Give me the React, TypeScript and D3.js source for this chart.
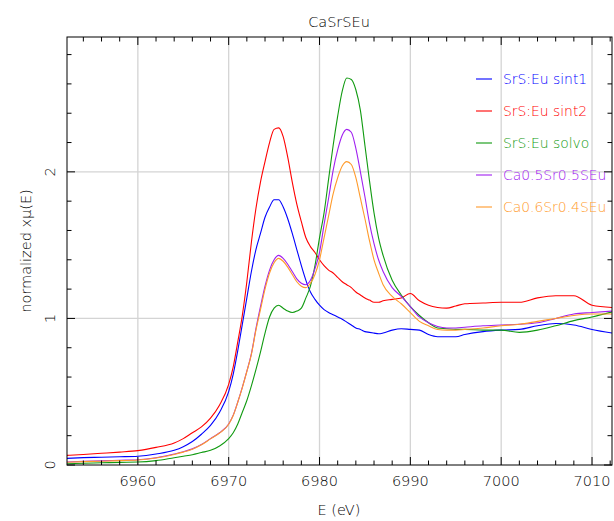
import React from "react";
import * as d3 from "d3";

const energy = [6952, 6954, 6956, 6958, 6960, 6962, 6964, 6965, 6966, 6967, 6968, 6969, 6970, 6970.5, 6971, 6971.5, 6972, 6972.5, 6973, 6973.5, 6974, 6974.5, 6975, 6975.5, 6976, 6976.5, 6977, 6977.5, 6978, 6978.5, 6979, 6979.5, 6980, 6980.5, 6981, 6981.5, 6982, 6982.5, 6983, 6983.5, 6984, 6984.5, 6985, 6985.5, 6986, 6986.5, 6987, 6988, 6989, 6990, 6991, 6992, 6993, 6994, 6995, 6996, 6998, 7000, 7002, 7004, 7006, 7008, 7010, 7012.2];

const sint1 = [0.045, 0.05, 0.053, 0.056, 0.06, 0.075, 0.1, 0.125, 0.16, 0.21, 0.27, 0.36, 0.5, 0.62, 0.78, 0.96, 1.14, 1.32, 1.47, 1.58, 1.69, 1.76, 1.81, 1.81, 1.76, 1.68, 1.58, 1.47, 1.36, 1.26, 1.18, 1.13, 1.09, 1.06, 1.04, 1.025, 1.01, 0.995, 0.975, 0.955, 0.935, 0.925, 0.91, 0.905, 0.9, 0.895, 0.9, 0.92, 0.93, 0.925, 0.92, 0.89, 0.875, 0.875, 0.875, 0.89, 0.91, 0.92, 0.925, 0.95, 0.965, 0.955, 0.925, 0.9];

const sint2 = [0.065, 0.072, 0.08, 0.088, 0.098, 0.12, 0.15, 0.18, 0.22, 0.26, 0.32, 0.41, 0.55, 0.67, 0.84, 1.02, 1.25, 1.52, 1.75, 1.93, 2.07, 2.2, 2.29, 2.3, 2.24, 2.1, 1.93, 1.78, 1.66, 1.55, 1.49, 1.45, 1.4, 1.36, 1.33, 1.31, 1.28, 1.25, 1.23, 1.21, 1.18, 1.16, 1.14, 1.125, 1.11, 1.11, 1.12, 1.13, 1.14, 1.17, 1.12, 1.09, 1.075, 1.07, 1.085, 1.1, 1.105, 1.11, 1.11, 1.14, 1.155, 1.155, 1.09, 1.075];

const solvo = [0.008, 0.012, 0.015, 0.018, 0.02, 0.03, 0.05, 0.06, 0.07, 0.085, 0.1, 0.13, 0.18, 0.22, 0.28, 0.36, 0.44, 0.54, 0.65, 0.77, 0.9, 1.01, 1.07, 1.09, 1.07, 1.05, 1.04, 1.05, 1.07, 1.14, 1.22, 1.36, 1.55, 1.72, 1.95, 2.18, 2.38, 2.55, 2.64, 2.63, 2.56, 2.42, 2.18, 1.94, 1.72, 1.55, 1.43, 1.26, 1.16, 1.08, 1.02, 0.97, 0.935, 0.93, 0.925, 0.925, 0.92, 0.92, 0.905, 0.92, 0.95, 0.985, 1.01, 1.045];

const ca05 = [0.02, 0.025, 0.028, 0.032, 0.036, 0.05, 0.075, 0.09, 0.11, 0.14, 0.18, 0.22, 0.28, 0.34, 0.43, 0.53, 0.64, 0.76, 0.93, 1.08, 1.22, 1.33, 1.4, 1.43, 1.41, 1.37, 1.32, 1.27, 1.24, 1.23, 1.26, 1.34, 1.45, 1.64, 1.82, 2.01, 2.15, 2.25, 2.29, 2.27, 2.16, 2.0, 1.83, 1.65, 1.51, 1.4, 1.32, 1.21, 1.15, 1.08, 1.01, 0.97, 0.945, 0.935, 0.935, 0.94, 0.95, 0.955, 0.96, 0.97, 1.0, 1.03, 1.04, 1.05];

const ca06 = [0.018, 0.023, 0.026, 0.03, 0.034, 0.048, 0.072, 0.088, 0.108, 0.138, 0.178, 0.218, 0.278, 0.338, 0.428, 0.528, 0.638, 0.755, 0.92, 1.06, 1.2, 1.31, 1.38, 1.41, 1.39, 1.35, 1.3, 1.25, 1.22, 1.21, 1.24, 1.3, 1.4, 1.55, 1.7, 1.85, 1.96, 2.04, 2.07, 2.05, 1.96, 1.82, 1.68, 1.53, 1.4, 1.31, 1.23, 1.15, 1.1, 1.04, 0.98, 0.95, 0.925, 0.92, 0.92, 0.925, 0.935, 0.95, 0.96, 0.98, 1.0, 1.02, 1.03, 1.03];

const seriesNames = ["SrS:Eu sint1", "SrS:Eu sint2", "SrS:Eu solvo", "Ca0.5Sr0.5SEu", "Ca0.6Sr0.4SEu"];
const seriesValues = [sint1, sint2, solvo, ca05, ca06];
const seriesColors = ["#0000ff", "#ff0000", "#109a10", "#a020f0", "#ff9a2a"];

const xMajor = [6960, 6970, 6980, 6990, 7000, 7010];
const yMajor = [0, 1, 2];

const W = 614;
const H = 521;
const M = { left: 67, right: 2, top: 37, bottom: 56 };
const FONT = "'DejaVu Sans', sans-serif";
const FW = 200;

export default function App() {
  const x = d3.scaleLinear().domain([6952.2, 7012.2]).range([M.left, W - M.right]);
  const y = d3.scaleLinear().domain([0, 2.92]).range([H - M.bottom, M.top]);
  const x0 = M.left, x1 = W - M.right, y0 = H - M.bottom, y1 = M.top;

  const xMinor = d3.range(6954, 7012.1, 2).filter((v) => v % 10 !== 0);
  const yMinor = d3.range(0.2, 2.91, 0.2).filter((v) => Math.abs(v - Math.round(v)) > 0.01);

  const line = d3
    .line<number>()
    .x((_, i) => x(energy[i]))
    .y((d) => y(d))
    .curve(d3.curveMonotoneX);

  return (
    <svg width={W} height={H} style={{ position: "absolute", left: 0, top: 0, background: "#fff" }}>
      <rect x={0} y={0} width={W} height={H} fill="#fff" />
      {xMajor.map((v) => (
        <line key={"gx" + v} x1={x(v)} x2={x(v)} y1={y0} y2={y1} stroke="#d4d4d4" strokeWidth={1.3} />
      ))}
      {yMajor.filter((v) => v > 0).map((v) => (
        <line key={"gy" + v} x1={x0} x2={x1} y1={y(v)} y2={y(v)} stroke="#d4d4d4" strokeWidth={1.3} />
      ))}
      <clipPath id="clip">
        <rect x={x0} y={y1} width={x1 - x0} height={y0 - y1} />
      </clipPath>
      <g clipPath="url(#clip)">
        {seriesValues.map((vals, i) => (
          <path key={i} d={line(vals) || ""} fill="none" stroke={seriesColors[i]} strokeWidth={1.1} />
        ))}
      </g>
      <rect x={x0} y={y1} width={x1 - x0} height={y0 - y1} fill="none" stroke="#000" strokeWidth={1} />
      {xMajor.map((v) => (
        <g key={"tx" + v}>
          <line x1={x(v)} x2={x(v)} y1={y0} y2={y0 - 8} stroke="#000" />
          <line x1={x(v)} x2={x(v)} y1={y1} y2={y1 + 8} stroke="#000" />
          <text x={x(v)} y={y0 + 21} textAnchor="middle" fontFamily={FONT} fontWeight={FW} fontSize={14.5} fill="#000">
            {v}
          </text>
        </g>
      ))}
      {xMinor.map((v) => (
        <g key={"mx" + v}>
          <line x1={x(v)} x2={x(v)} y1={y0} y2={y0 - 4.5} stroke="#000" />
          <line x1={x(v)} x2={x(v)} y1={y1} y2={y1 + 4.5} stroke="#000" />
        </g>
      ))}
      {yMajor.map((v) => (
        <g key={"ty" + v}>
          <line x1={x0} x2={x0 + 8} y1={y(v)} y2={y(v)} stroke="#000" />
          <line x1={x1} x2={x1 - 8} y1={y(v)} y2={y(v)} stroke="#000" />
          <text
            transform={`translate(${x0 - 12},${y(v)}) rotate(-90)`}
            textAnchor="middle"
            fontFamily={FONT}
            fontWeight={FW}
            fontSize={14.5}
            fill="#000"
          >
            {v}
          </text>
        </g>
      ))}
      {yMinor.map((v) => (
        <g key={"my" + v}>
          <line x1={x0} x2={x0 + 4.5} y1={y(v)} y2={y(v)} stroke="#000" />
          <line x1={x1} x2={x1 - 4.5} y1={y(v)} y2={y(v)} stroke="#000" />
        </g>
      ))}
      <text x={339} y={27} textAnchor="middle" fontFamily={FONT} fontWeight={FW} fontSize={14.5} fill="#000">
        CaSrSEu
      </text>
      <text x={339} y={515} textAnchor="middle" fontFamily={FONT} fontWeight={FW} fontSize={14.5} fill="#000">
        E (eV)
      </text>
      <text
        transform={`translate(31,${(y0 + y1) / 2}) rotate(-90)`}
        textAnchor="middle"
        fontFamily={FONT}
        fontWeight={FW}
        fontSize={14.5}
        fill="#000"
      >
        normalized xμ(E)
      </text>
      {seriesNames.map((n, i) => {
        const ly = 79 + i * 32;
        return (
          <g key={"lg" + i}>
            <line x1={476} x2={492} y1={ly} y2={ly} stroke={seriesColors[i]} strokeWidth={1.1} />
            <text x={503} y={ly + 5} fontFamily={FONT} fontWeight={FW} fontSize={13.9} fill={seriesColors[i]}>
              {n}
            </text>
          </g>
        );
      })}
    </svg>
  );
}
